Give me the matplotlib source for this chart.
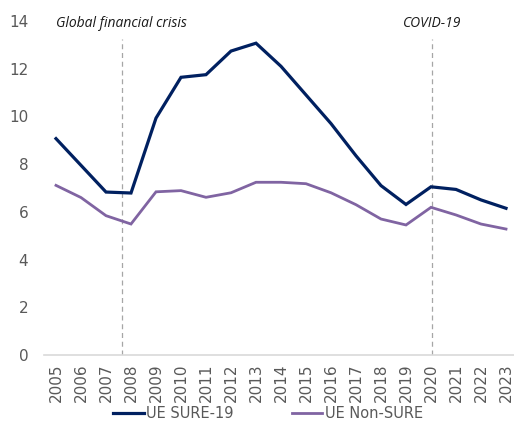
import matplotlib
matplotlib.use("Agg")
import matplotlib.pyplot as plt

plt.rcParams["font.family"] = "DejaVu Sans"

# données
years = list(range(2005, 2024))
sure19 = [9.07, 7.95, 6.83, 6.79, 9.93, 11.64, 11.75, 12.74, 13.07, 12.1,
          10.9, 9.7, 8.35, 7.1, 6.31, 7.05, 6.94, 6.5, 6.15]
non_sure = [7.11, 6.6, 5.84, 5.49, 6.84, 6.89, 6.61, 6.8, 7.24, 7.24,
            7.18, 6.8, 6.3, 5.7, 5.45, 6.19, 5.87, 5.49, 5.28]
events = ["Global financial crisis", "COVID-19"]
event_x = [2007.62, 2020.05]

NAVY = "#002060"
PURPLE = "#8064A2"
GREY = "#595959"

fig = plt.figure(figsize=(5.14, 4.21), dpi=100)
ax = fig.add_axes([43.5 / 514, 1 - 355 / 421, (514 - 43.5) / 514, (355 - 21) / 421])

ax.plot(years, sure19, color=NAVY, lw=2.3, label="UE SURE-19", solid_joinstyle="miter")
ax.plot(years, non_sure, color=PURPLE, lw=2.0, label="UE Non-SURE", solid_joinstyle="miter")

# lignes verticales des crises
for name, x in zip(events, event_x):
    ax.plot([x, x], [0, 13.25], color="#a6a6a6", lw=0.9, ls=(0, (4, 3)), zorder=0)
    ax.text(x, 13.88, name, ha="center", va="center", fontsize=10,
            style="italic", family="Open Sans", color="#1a1a1a")

ax.set_xlim(2004.5, 2023.32)
ax.set_ylim(0, 14)
ax.set_yticks(range(0, 15, 2))
ax.set_xticks(years)
ax.set_xticklabels([str(y) for y in years], rotation=90)
ax.tick_params(axis="both", length=0, labelsize=11, labelcolor=GREY)
ax.tick_params(axis="y", pad=11)
ax.tick_params(axis="x", pad=6)

for s in ["top", "right", "left"]:
    ax.spines[s].set_visible(False)
ax.spines["bottom"].set_color("#d9d9d9")
ax.spines["bottom"].set_linewidth(1.2)

leg = fig.legend(loc="center", bbox_to_anchor=(268 / 514, 1 - 413.5 / 421), ncol=2,
                 frameon=False, fontsize=10.5, handlelength=2.1, handletextpad=0.15,
                 columnspacing=4.0, borderaxespad=0)
for t in leg.get_texts():
    t.set_color(GREY)

fig.savefig("out.png", dpi=100)
